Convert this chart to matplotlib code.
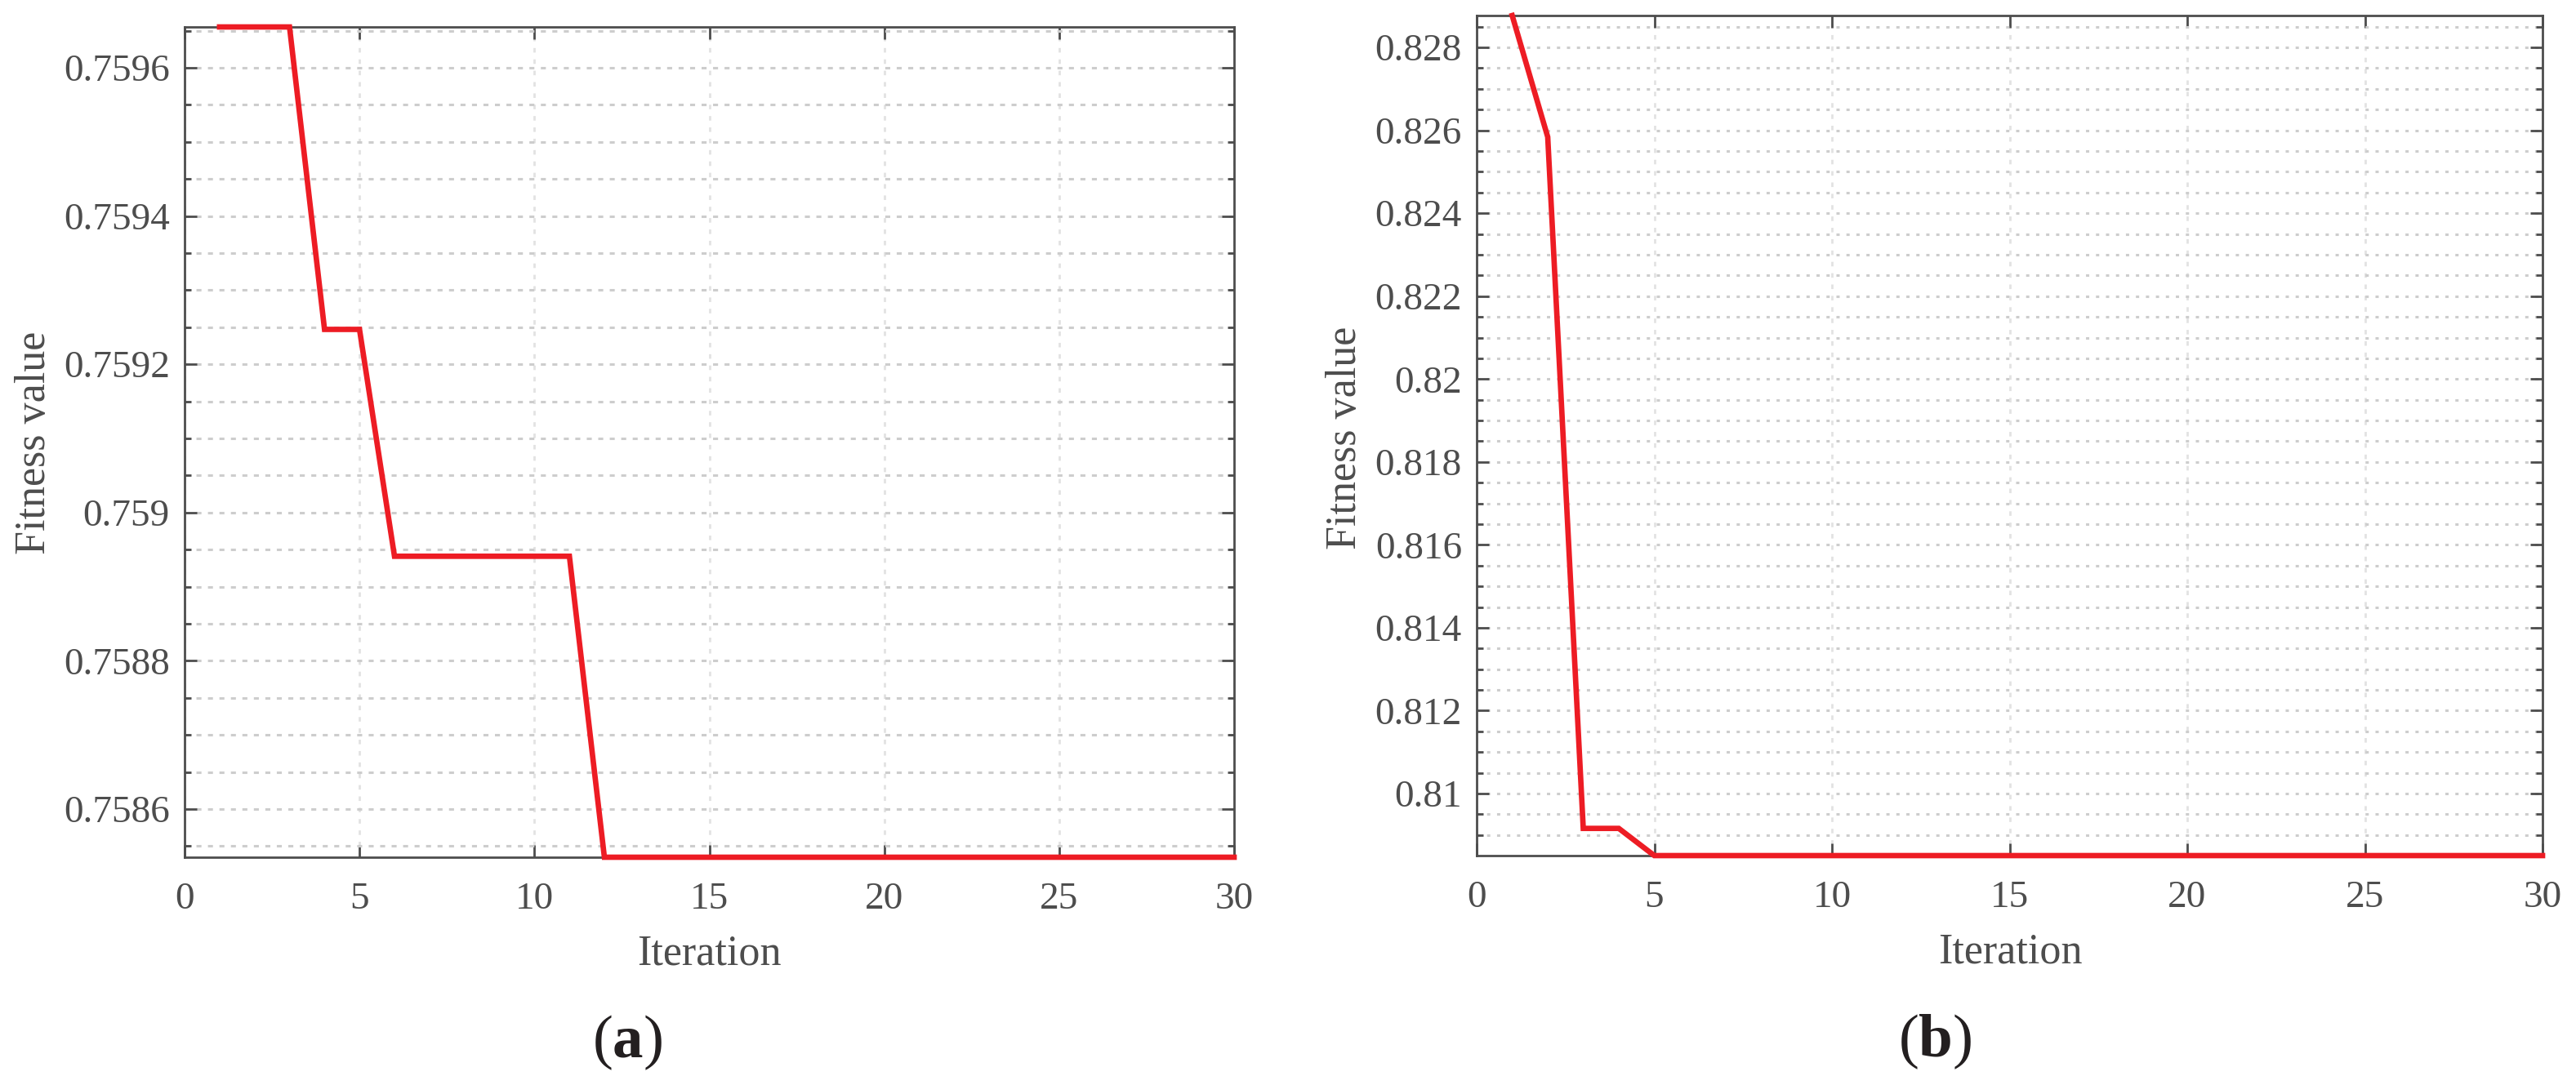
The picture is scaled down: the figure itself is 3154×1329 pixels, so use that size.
import matplotlib
matplotlib.use("Agg")
import matplotlib.pyplot as plt
from matplotlib.ticker import MultipleLocator, FormatStrFormatter, FuncFormatter

plt.rcParams['font.family'] = ['Liberation Serif', 'DejaVu Serif']
plt.rcParams['mathtext.fontset'] = 'custom'
plt.rcParams['mathtext.rm'] = 'Liberation Serif'
plt.rcParams['mathtext.bf'] = 'Liberation Serif:bold'

# ---------------- data ----------------
iterations = [1, 2, 3, 4, 5, 6, 7, 8, 9, 10,
              11, 12, 13, 14, 15, 16, 17, 18, 19, 20,
              21, 22, 23, 24, 25, 26, 27, 28, 29, 30]
fitness_a = [0.759655, 0.759655, 0.759655, 0.759247, 0.759247,
             0.758941, 0.758941, 0.758941, 0.758941, 0.758941,
             0.758941, 0.758535, 0.758535, 0.758535, 0.758535,
             0.758535, 0.758535, 0.758535, 0.758535, 0.758535,
             0.758535, 0.758535, 0.758535, 0.758535, 0.758535,
             0.758535, 0.758535, 0.758535, 0.758535, 0.758535]
fitness_b = [0.82877, 0.82584, 0.80916, 0.80916, 0.808504,
             0.808504, 0.808504, 0.808504, 0.808504, 0.808504,
             0.808504, 0.808504, 0.808504, 0.808504, 0.808504,
             0.808504, 0.808504, 0.808504, 0.808504, 0.808504,
             0.808504, 0.808504, 0.808504, 0.808504, 0.808504,
             0.808504, 0.808504, 0.808504, 0.808504, 0.808504]
x_ticks = [0, 5, 10, 15, 20, 25, 30]
panel_labels = ['a', 'b']
x_label = 'Iteration'
y_label = 'Fitness value'

W, H = 3154, 1329
fig = plt.figure(figsize=(W / 100, H / 100), dpi=100)

AX_COLOR = '#4d4d4d'
RED = '#ed1c24'

# axes boxes in pixel coordinates (left, top, right, bottom)
boxes = [(226, 33, 1511, 1050), (1808, 19, 3113, 1048)]
major_steps = [0.0002, 0.002]
minor_steps = [0.00005, 0.0005]
series = [fitness_a, fitness_b]
ylabel_pos = [(55, 542), (1660, 536)]
xlabel_pos = [(868, 1181), (2461, 1179)]
panel_pos = [(768, 1295), (2369, 1294)]
ygrid_dash = [(0, (2.0, 2.6)), (0, (1.3, 2.7))]

for i in range(2):
    l, t, r, b = boxes[i]
    ax = fig.add_axes([l / W, (H - b) / H, (r - l) / W, (b - t) / H])
    y = series[i]
    ax.plot(iterations, y, color=RED, lw=4.8, zorder=5, clip_on=False,
            solid_joinstyle='miter')
    ax.set_xlim(0, 30)
    ax.set_ylim(min(y), max(y))
    ax.set_xticks(x_ticks)
    ax.yaxis.set_major_locator(MultipleLocator(major_steps[i]))
    ax.yaxis.set_minor_locator(MultipleLocator(minor_steps[i]))
    ax.yaxis.set_major_formatter(FuncFormatter(lambda v, p: ('%.4f' % v).rstrip('0').rstrip('.')))

    for s in ax.spines.values():
        s.set_color(AX_COLOR)
        s.set_linewidth(2.0)
        s.set_zorder(3)
    ax.tick_params(axis='both', which='both', direction='in', colors=AX_COLOR,
                   top=True, right=True, labelsize=34)
    ax.tick_params(axis='both', which='major', length=10.8, width=2.0)
    ax.tick_params(axis='both', which='minor', length=5.6, width=2.0)
    ax.tick_params(axis='x', which='major', pad=22)
    ax.tick_params(axis='y', which='major', pad=13)

    ax.grid(True, axis='x', which='major', color='#e2e2e2', lw=2.0,
            linestyle=(0, (2.0, 3.0)), zorder=0)
    ax.grid(True, axis='y', which='both', color='#cdcdcd', lw=2.2,
            linestyle=ygrid_dash[i], zorder=0)
    ax.set_axisbelow(True)

    ax.set_xlabel(x_label, fontsize=37.5, color=AX_COLOR, va='baseline', ha='center')
    ax.xaxis.set_label_coords(xlabel_pos[i][0] / W, (H - xlabel_pos[i][1]) / H,
                              transform=fig.transFigure)
    ax.set_ylabel(y_label, fontsize=37.5, color=AX_COLOR, va='baseline', ha='center')
    ax.yaxis.set_label_coords(ylabel_pos[i][0] / W, (H - ylabel_pos[i][1]) / H,
                              transform=fig.transFigure)

    fig.text(panel_pos[i][0] / W, (H - panel_pos[i][1]) / H,
             '(' + r'$\mathbf{' + panel_labels[i] + '}$' + ')',
             fontsize=54, color='#231f20', ha='center', va='baseline')

fig.savefig('out.png', dpi=100)
